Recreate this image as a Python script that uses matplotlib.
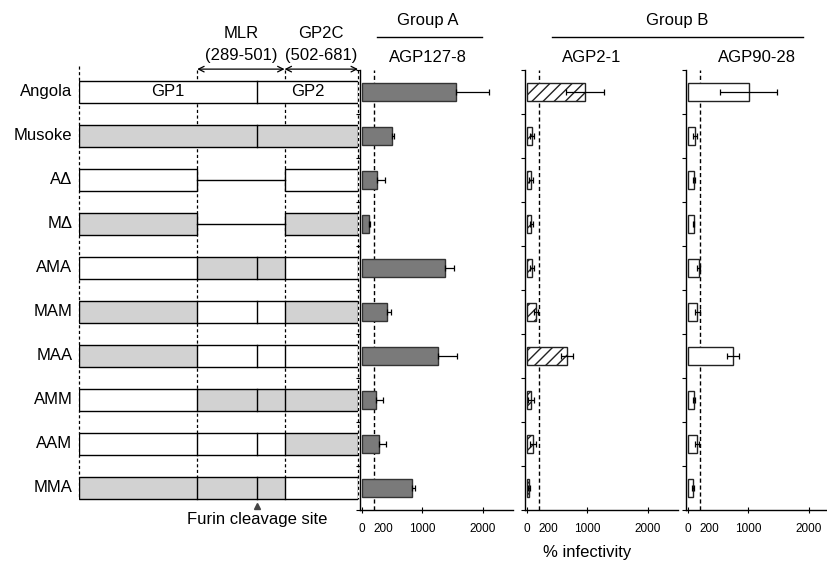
import numpy as np
import matplotlib
matplotlib.use('Agg')
import matplotlib.pyplot as plt
from matplotlib.patches import Rectangle
from matplotlib.lines import Line2D

plt.rcParams['font.family'] = ['Liberation Sans', 'DejaVu Sans']

# construtos e origem de cada região (GP1 / MLR / GP2C): A = Angola, M = Musoke, - = deleção
constructs = ['Angola', 'Musoke', 'AΔ', 'MΔ', 'AMA', 'MAM', 'MAA', 'AMM', 'AAM', 'MMA']
regions = ['AAA', 'MMM', 'A-A', 'M-M', 'AMA', 'MAM', 'MAA', 'AMM', 'AAM', 'MMA']
bounds = [1, 289, 502, 681]
furin = 435

# % infectividade (média e erro) por anticorpo
agp127 = [1550, 500, 250, 120, 1370, 410, 1260, 230, 280, 830]
agp127_err = [550, 40, 130, 20, 150, 70, 310, 120, 120, 50]
agp2 = [960, 85, 70, 75, 85, 150, 670, 70, 100, 40]
agp2_err = [320, 40, 30, 30, 30, 30, 100, 50, 50, 20]
agp90 = [1010, 115, 100, 95, 180, 155, 750, 100, 150, 85]
agp90_err = [470, 30, 15, 10, 20, 40, 100, 20, 30, 10]

W, H = 827, 563
fig = plt.figure(figsize=(W / 100, H / 100), dpi=100)


def box(x0, y0, x1, y1):
    # pixel -> fração da figura
    return [x0 / W, 1 - y1 / H, (x1 - x0) / W, (y1 - y0) / H]


top, bot = 70, 510
ylim = (9.5, -0.5)
gray = '#d2d2d2'

# ---------- diagrama das glicoproteínas ----------
ax = fig.add_axes(box(79, top, 358, bot))
ax.set_xlim(1, 681)
ax.set_ylim(*ylim)
ax.axis('off')

dash = (0, (2.5, 2))
ax.plot([1, 1], [-0.6, 9.25], color='k', lw=0.9, ls=dash, clip_on=False, zorder=0)
for b in bounds[1:]:
    ax.plot([b, b], [-0.5, 9.25], color='k', lw=0.9, ls=dash, clip_on=False, zorder=0)

h = 0.5
for i, (name, reg) in enumerate(zip(constructs, regions)):
    y0 = i - h / 2
    if '-' in reg:
        for k in (0, 2):
            fc = gray if reg[k] == 'M' else 'white'
            ax.add_patch(Rectangle((bounds[k], y0), bounds[k + 1] - bounds[k], h,
                                   fc=fc, ec='k', lw=1, zorder=2))
        ax.plot([bounds[1], bounds[2]], [i, i], color='k', lw=1, zorder=2)
    else:
        for k in range(3):
            fc = gray if reg[k] == 'M' else 'white'
            ax.add_patch(Rectangle((bounds[k], y0), bounds[k + 1] - bounds[k], h,
                                   fc=fc, ec='none', zorder=2))
        ax.add_patch(Rectangle((1, y0), 680, h, fc='none', ec='k', lw=1, zorder=3))
        ax.plot([furin, furin], [y0, y0 + h], color='k', lw=1, zorder=3)
        if len(set(reg)) > 1:
            for b in bounds[1:3]:
                ax.plot([b, b], [y0, y0 + h], color='k', lw=1, zorder=3)
    ax.text(-15, i, name, ha='right', va='center', fontsize=12, clip_on=False)

ax.text(218, 0, 'GP1', ha='center', va='center', fontsize=12, zorder=4)
ax.text(558, 0, 'GP2', ha='center', va='center', fontsize=12, zorder=4)

for a, b, lab, rng in [(289, 502, 'MLR', '(289-501)'), (502, 681, 'GP2C', '(502-681)')]:
    ax.annotate('', xy=(a, -0.52), xytext=(b, -0.52),
                arrowprops=dict(arrowstyle='<->', lw=0.9, color='k', shrinkA=0, shrinkB=0),
                annotation_clip=False)
    ax.text((a + b) / 2, -1.34, lab, ha='center', va='center', fontsize=12, clip_on=False)
    ax.text((a + b) / 2, -0.84, rng, ha='center', va='center', fontsize=12, clip_on=False)

ax.plot([furin], [9.41], marker='^', color='#444444', ms=5, clip_on=False)
ax.text(furin, 9.72, 'Furin cleavage site', ha='center', va='center', fontsize=12, clip_on=False)

# ---------- painéis de infectividade ----------
panels = [
    (360, agp127, agp127_err, dict(color='#7a7a7a', edgecolor='#333333'), True),
    (525, agp2, agp2_err, dict(color='white', edgecolor='#222222', hatch='///'), False),
    (686, agp90, agp90_err, dict(color='white', edgecolor='#222222'), False),
]
ypos = np.arange(len(constructs))
for left, vals, err, style, upper_only in panels:
    p = fig.add_axes(box(left, top, left + 153, bot))
    p.set_xlim(-30, 2500)
    p.set_ylim(*ylim)
    p.barh(ypos, vals, height=0.42, lw=1, zorder=2, **style)
    xerr = [np.zeros(len(err)), err] if upper_only else err
    p.errorbar(vals, ypos, xerr=xerr, fmt='none', ecolor='k', elinewidth=0.9,
               capsize=2, capthick=0.9, zorder=3)
    p.axvline(200, color='k', lw=1, ls=(0, (3, 2)), zorder=1)
    for s in ('top', 'right'):
        p.spines[s].set_visible(False)
    p.spines['left'].set_linewidth(1)
    p.spines['bottom'].set_linewidth(1)
    p.set_yticks(np.arange(-0.5, 10, 1))
    p.set_yticklabels([])
    p.tick_params(axis='y', length=3, width=0.8)
    p.set_xticks([0, 200, 1000, 2000])
    p.set_xticklabels(['0', '200', '1000', '2000'], fontsize=8.5)
    p.tick_params(axis='x', direction='inout', length=4, width=0.8, pad=7)
    p.get_xticklabels()[1].set_ha('left')
    p.xaxis.get_major_ticks()[1].tick1line.set_visible(False)

# ---------- títulos ----------
def ftext(x, y, s, **kw):
    fig.text(x / W, 1 - y / H, s, ha='center', va='center', fontsize=12, **kw)


ftext(428, 21, 'Group A')
ftext(677, 21, 'Group B')
ftext(428, 58, 'AGP127-8')
ftext(592, 58, 'AGP2-1')
ftext(757, 58, 'AGP90-28')
ftext(587, 552, '% infectivity')
for x0, x1 in [(377, 482), (552, 803)]:
    fig.add_artist(Line2D([x0 / W, x1 / W], [1 - 37 / H] * 2, color='k', lw=1))

plt.savefig('out.png', dpi=100)
